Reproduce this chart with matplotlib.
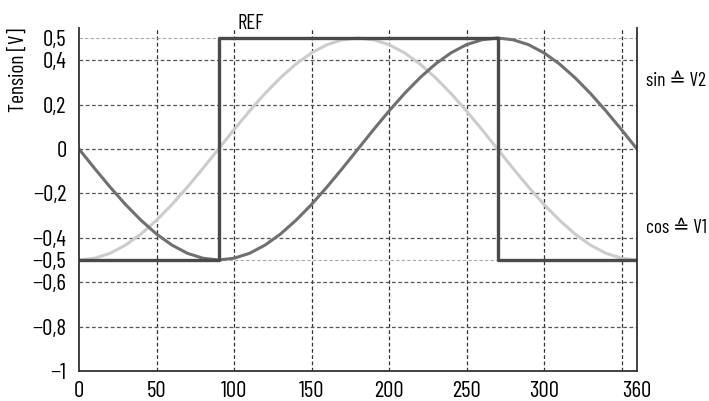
import matplotlib.pyplot as plt
from matplotlib import font_manager

deg = list(range(0, 361, 10))
# V2 (sin curve), every 10 deg
v2 = [0, -0.087, -0.171, -0.25, -0.321, -0.383, -0.433, -0.47, -0.492, -0.5,
      -0.492, -0.47, -0.433, -0.383, -0.321, -0.25, -0.171, -0.087, 0,
      0.087, 0.171, 0.25, 0.321, 0.383, 0.433, 0.47, 0.492, 0.5,
      0.492, 0.47, 0.433, 0.383, 0.321, 0.25, 0.171, 0.087, 0]
# V1 (cos curve)
v1 = [-0.5, -0.492, -0.47, -0.433, -0.383, -0.321, -0.25, -0.171, -0.087, 0,
      0.087, 0.171, 0.25, 0.321, 0.383, 0.433, 0.47, 0.492, 0.5,
      0.492, 0.47, 0.433, 0.383, 0.321, 0.25, 0.171, 0.087, 0,
      -0.087, -0.171, -0.25, -0.321, -0.383, -0.433, -0.47, -0.492, -0.5]
ref_x = [0, 90, 90, 270, 270, 360]
ref_y = [-0.5, -0.5, 0.5, 0.5, -0.5, -0.5]

yticks = [-1, -0.8, -0.6, -0.5, -0.4, -0.2, 0, 0.2, 0.4, 0.5]
xticks = [0, 50, 100, 150, 200, 250, 300, 360]
xgrid = [50, 100, 150, 200, 250, 300, 350]

fams = {f.name for f in font_manager.fontManager.ttflist}
cands = ['Barlow Condensed', 'Roboto Condensed', 'Sofia Sans Condensed', 'DejaVu Sans']
main = [c for c in cands if c in fams][0]
plt.rcParams['font.family'] = [main, 'DejaVu Sans']

fig = plt.figure(figsize=(7.09, 4.01), dpi=100)
ax = fig.add_axes([79/709, 1 - 371/401, 558/709, 343/401])

ax.plot(deg, v1, color='#cccccc', lw=2.2)
ax.plot(deg, v2, color='#707070', lw=2.2)
ax.plot(ref_x, ref_y, color='#4a4a4a', lw=2.4)

for g in xgrid:
    ax.axvline(g, color='#333333', lw=0.9, ls=(0, (3, 2)), zorder=0)
for g in yticks:
    if g in (0.5, -0.5):
        ax.axhline(g, color='#aaaaaa', lw=0.8, ls=(0, (3, 2)), zorder=0)
    elif g != -1:
        ax.axhline(g, color='#555555', lw=0.9, ls=(0, (3, 2)), zorder=0)

ax.set_xlim(0, 360)
ax.set_ylim(-1, 0.545)
ax.set_xticks(xticks)
ax.set_yticks(yticks)
ax.set_yticklabels([('\u2212' if t < 0 else '') + ('%g' % abs(t)).replace('.', ',') for t in yticks])
ax.tick_params(length=0, labelsize=16.5)
ax.tick_params(axis='y', pad=9)
ax.tick_params(axis='x', pad=7)
ax.spines['top'].set_visible(False)
for s in ('left', 'right', 'bottom'):
    ax.spines[s].set_linewidth(1.3)
    ax.spines[s].set_color('#333333')
ax.set_ylabel('Tension [V]', fontsize=15.5, labelpad=3, loc='top')

ax.text(102, 0.54, 'REF', fontsize=15, va='baseline', ha='left')
ax.text(366, 0.306, 'sin \u2259 V2', fontsize=14, va='center', ha='left')
ax.text(366, -0.356, 'cos \u2259 V1', fontsize=14, va='center', ha='left')

fig.savefig('out.png', dpi=100)
